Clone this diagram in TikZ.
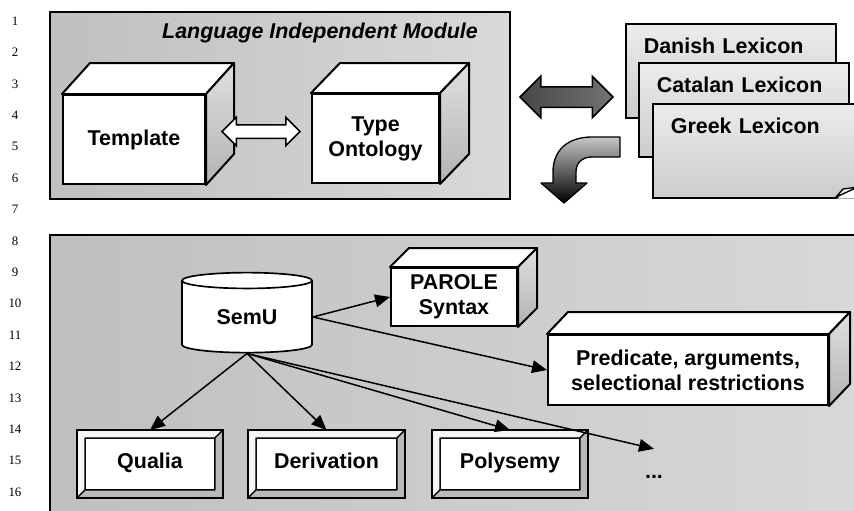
\documentclass[tikz,border=0pt]{standalone}
\usepackage{fontspec}
\setmainfont{Liberation Sans}
\newfontfamily\numfont{Liberation Serif}
\usetikzlibrary{shapes.geometric, shapes.arrows, arrows.meta}

\begin{document}
\begin{tikzpicture}[
    x=0.3mm, y=-0.3mm,
    every node/.style={font=\fontsize{18.3}{21.5}\selectfont\bfseries, align=center},
    linenum/.style={font=\fontsize{11}{13}\selectfont\numfont},
    panel/.style={draw=black, line width=0.5mm, left color=gray!50, right color=gray!30},
    front/.style={draw, line width=0.6mm, fill=white, inner sep=0pt},
    topface/.style={draw, line width=0.6mm, fill=white, line join=round},
    sideface/.style={draw, line width=0.6mm, top color=gray!25, bottom color=gray!60, line join=round},
    bevelbox/.style={draw, line width=0.6mm, fill=white, inner sep=0pt, outer sep=2.4mm,
                minimum height=15.6mm, text height=0.72em, text depth=0pt},
    page/.style={draw, line width=0.5mm, top color=gray!15, bottom color=gray!40, align=left,
                inner xsep=5.4mm, inner ysep=0pt, text height=8.85mm, text depth=19.35mm,
                anchor=north west},
    db/.style={cylinder, shape border rotate=90, draw, line width=0.5mm, fill=white,
                aspect=0.26, minimum width=39mm, minimum height=24mm, inner sep=0pt},
    bigarrow/.style={double arrow, draw, line width=0.45mm, inner xsep=0pt},
    arr/.style={-{Triangle[length=4.5mm, width=3.8mm]}, line width=0.45mm},
  ]

  \useasboundingbox (0,0) rectangle (854,510);

  % === Line numbers ===
  \foreach \i in {1,...,16}
    \node[linenum] (ln\i) at (15, {21+31.4*(\i-1)}) {\i};

  % === Panels ===
  \draw[panel] (50,12) rectangle (510,199);
  \draw[panel] (50,235) rectangle (880,540);

  % === Language independent module ===
  \node (title) at (320,33) {\itshape Language Independent Module};
  \node[front, minimum width=42.6mm, minimum height=26.7mm] (tmpl) at (134,139.5) {Template};
  \node[front, minimum width=38.1mm, minimum height=26.7mm] (onto) at (375.5,138.5) {Type\\Ontology};

  % === Lexicons ===
  \node[bigarrow, left color=black!72, right color=black!55, inner ysep=2.85mm,
        double arrow head extend=3.15mm, minimum height=27.9mm] (swap) at (566.5,97) {};
  \node[page, text width=52.2mm] (danish)  at (625,23)  {Danish Lexicon};
  \node[page, text width=52.2mm] (catalan) at (638,62)  {Catalan Lexicon};
  \node[page, text width=50.1mm] (greek)   at (652,103) {Greek Lexicon};
  \fill[white] (837,198.5) -- (860,198.5) -- (860,185) -- cycle;
  \draw[line width=0.4mm, fill=gray!10, line join=round] (836,197) -- (843,189) -- (858,187) -- cycle;

  % === Bent arrow down ===
  \draw[line width=0.4mm, top color=gray!45, bottom color=black, line join=round]
    (620,137) -- (592,137) .. controls (568,137) and (553,150) .. (553,172) -- (553,183)
    -- (541,183) -- (564,203) -- (587,183) -- (576,183) -- (576,172)
    .. controls (576,163) and (582,157) .. (592,157) -- (620,157) -- cycle;

  % === Language dependent part ===
  \node[db] (semu) at (247,317) {SemU};
  \node[front, minimum width=37.8mm, minimum height=17.4mm] (parole) at (454,297) {PAROLE\\Syntax};
  \node[front, minimum width=84mm, minimum height=21mm] (pred) at (688,370)
        {Predicate, arguments,\\selectional restrictions};
  \node[bevelbox, minimum width=39mm]   (qualia) at (150,464)   {Qualia};
  \node[bevelbox, minimum width=42.3mm] (deriv)  at (326.5,464) {Derivation};
  \node[bevelbox, minimum width=42mm]   (polys)  at (510,464)   {Polysemy};
  \node[anchor=base, text height=7.5mm] (more) at (654,478) {...};

  % === 3D faces ===
  \foreach \n/\dx/\dy in {tmpl/28/31, onto/29/30, parole/19/19, pred/21/22} {
    \draw[topface] (\n.north west) -- ++(\dx,-\dy) -- ([shift={(\dx,-\dy)}]\n.north east)
      -- (\n.north east) -- cycle;
    \draw[sideface] (\n.north east) -- ++(\dx,-\dy) -- ([shift={(\dx,-\dy)}]\n.south east)
      -- (\n.south east) -- cycle;
  }

  % === Bevels ===
  \foreach \n in {qualia, deriv, polys} {
    \draw[line width=0.4mm, fill=gray!8, line join=round] (\n.north west) -- (\n.north east)
      -- ([shift={(-8,8)}]\n.north east) -- ([shift={(8,8)}]\n.north west)
      -- ([shift={(8,-8)}]\n.south west) -- (\n.south west) -- cycle;
    \draw[line width=0.4mm, fill=gray!55, line join=round] (\n.north east) -- (\n.south east)
      -- (\n.south west) -- ([shift={(8,-8)}]\n.south west)
      -- ([shift={(-8,-8)}]\n.south east) -- ([shift={(-8,8)}]\n.north east) -- cycle;
    \draw[line width=0.7mm] (\n.north west) rectangle (\n.south east);
  }

  % === Template <-> Type Ontology ===
  \node[bigarrow, fill=white, inner ysep=1.8mm, double arrow head extend=2.25mm,
        minimum height=23.4mm] (link) at (261,131.5) {};

  % === Arrows ===
  \draw[arr] (semu.east)  -- (parole.west);
  \draw[arr] (semu.east)  -- (pred.west);
  \draw[arr] (semu.south) -- (qualia.north);
  \draw[arr] (semu.south) -- (deriv.north);
  \draw[arr] (semu.south) -- (polys.north);
  \draw[arr] (semu.south) -- (more.north);

\end{tikzpicture}
\end{document}
